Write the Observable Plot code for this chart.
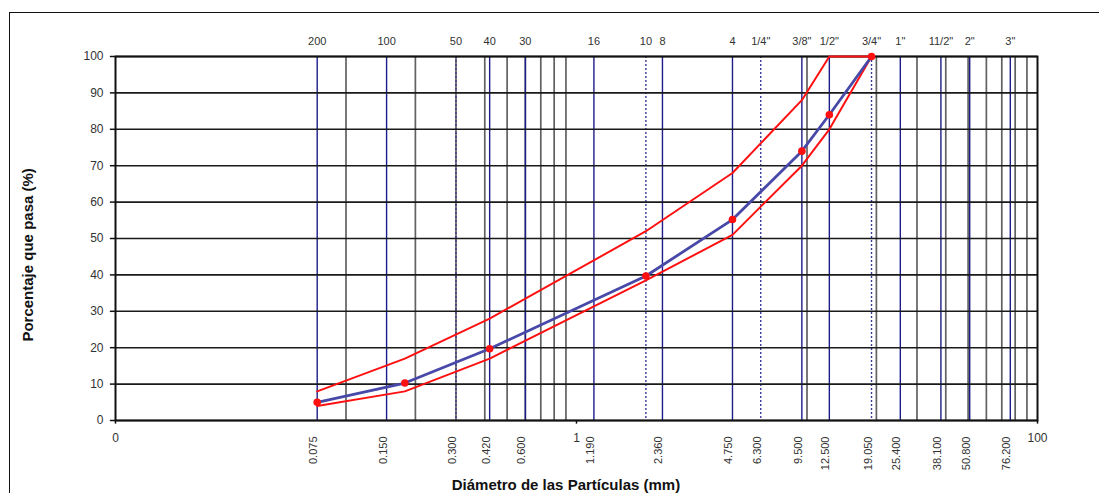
<!DOCTYPE html>
<html>
<head>
<meta charset="utf-8">
<script src="https://cdn.jsdelivr.net/npm/d3@7"></script>
<script src="https://cdn.jsdelivr.net/npm/@observablehq/plot@0.6"></script>
<style>
  html, body { margin: 0; padding: 0; background: #fff; overflow: hidden; }
  #wrap { position: relative; width: 1099px; height: 493px; }
  #border { position: absolute; left: 9px; top: 12px; width: 1200px; height: 600px;
            border-left: 1.5px solid #111; border-top: 1.5px solid #111; pointer-events: none; }
</style>
</head>
<body>
<div id="wrap"><div id="border"></div></div>
<script>
// Sieve openings (mm) and names
const sieveSizes = [0.075, 0.15, 0.3, 0.42, 0.6, 1.19, 2.0, 2.36, 4.75, 6.3, 9.5, 12.5, 19.05, 25.4, 38.1, 50.8, 76.2];
const sieveNames = ["200", "100", "50", "40", "30", "16", "10", "8", "4", "1/4\"", "3/8\"", "1/2\"", "3/4\"", "1\"", "11/2\"", "2\"", "3\""];
const dottedSizes = [0.3, 2.0, 6.3, 19.05];
const bottomLabelSizes = [0.075, 0.15, 0.3, 0.42, 0.6, 1.19, 2.36, 4.75, 6.3, 9.5, 12.5, 19.05, 25.4, 38.1, 50.8, 76.2];
const minorGrid = [0.1, 0.2, 0.3, 0.4, 0.5, 0.6, 0.7, 0.8, 0.9, 10, 20, 30, 40, 50, 60, 70, 80, 90];
const xMainLabels = [0.01, 1, 100];
const xMainText = ["0", "1", "100"];
const yTicks = [0, 10, 20, 30, 40, 50, 60, 70, 80, 90, 100];

// Curves
const curveX = [0.075, 0.18, 0.42, 2.0, 4.75, 9.5, 12.5, 19.05];
const sampleY = [5, 10.3, 19.7, 39.7, 55.2, 74, 84, 100];
const upperY = [8, 17, 28, 52, 68, 88, 100, 100];
const lowerY = [4, 8, 17, 38.5, 51, 70, 80, 100];

const sample = curveX.map((x, i) => ({x, y: sampleY[i]}));
const upper = curveX.map((x, i) => ({x, y: upperY[i]}));
const lower = curveX.map((x, i) => ({x, y: lowerY[i]}));
const sieves = sieveSizes.map((s, i) => ({s, name: sieveNames[i], dotted: dottedSizes.includes(s)}));
const solidSieves = sieves.filter(d => !d.dotted);
const dotSieves = sieves.filter(d => d.dotted);
const mainLabels = xMainLabels.map((v, i) => ({v, t: xMainText[i]}));

const font = "Liberation Sans, Arial, Helvetica, sans-serif";

const chart = Plot.plot({
  width: 1099,
  height: 493,
  marginLeft: 115,
  marginRight: 62,
  marginTop: 56,
  marginBottom: 73,
  style: {fontFamily: font, background: "transparent", overflow: "visible"},
  x: {type: "log", domain: [0.01, 100], axis: null},
  y: {domain: [0, 100], axis: null},
  marks: [
    Plot.ruleX(minorGrid, {stroke: "#3a3a3a", strokeWidth: 1.7, strokeOpacity: 0.8}),
    Plot.ruleX(solidSieves, {x: "s", stroke: "#1c1c8a", strokeWidth: 1.4}),
    Plot.ruleX(dotSieves, {x: "s", stroke: "#3a3a9a", strokeWidth: 1.4, strokeDasharray: "2,2"}),
    Plot.ruleY(yTicks, {stroke: "#1a1a1a", strokeWidth: 1.6}),
    // y ticks
    Plot.ruleY(yTicks, {x1: 0.0095, x2: 0.01, stroke: "#111", strokeWidth: 1.5, clip: false}),
    // x ticks
    Plot.ruleX(xMainLabels, {y1: 0, y2: -1, stroke: "#111", strokeWidth: 1.5}),
    Plot.frame({stroke: "#111", strokeWidth: 2}),
    // curves
    Plot.line(lower, {x: "x", y: "y", stroke: "#ff1010", strokeWidth: 2}),
    Plot.line(upper, {x: "x", y: "y", stroke: "#ff1010", strokeWidth: 2}),
    Plot.line(sample, {x: "x", y: "y", stroke: "#4848a8", strokeWidth: 2.8}),
    Plot.dot(sample, {x: "x", y: "y", r: 3.8, fill: "#ff1010", stroke: "none"}),
    // y tick labels
    Plot.text(yTicks, {frameAnchor: "left", y: d => d, text: d => String(d), dx: -12, textAnchor: "end", fontSize: 12, fill: "#333"}),
    // top sieve names
    Plot.text(sieves, {x: "s", text: "name", frameAnchor: "top", dy: -19, fontSize: 11, fill: "#333"}),
    // bottom rotated labels
    Plot.text(bottomLabelSizes, {x: d => d, text: d => d.toFixed(3), frameAnchor: "bottom", dy: 16, rotate: -90, textAnchor: "end", fontSize: 11, fill: "#333"}),
    // main x labels
    Plot.text(mainLabels, {x: "v", text: "t", frameAnchor: "bottom", dy: 21, fontSize: 12, fill: "#333"}),
    // axis titles
    Plot.text(["Diámetro de las Partículas (mm)"], {x: 0.9, frameAnchor: "bottom", dy: 69, textAnchor: "middle", text: d => d, fontSize: 15, fontWeight: "bold", fill: "#111"}),
    Plot.text(["Porcentaje que pasa (%)"], {frameAnchor: "left", y: 45.5, dx: -87, rotate: -90, textAnchor: "middle", text: d => d, fontSize: 15, fontWeight: "bold", fill: "#111"})
  ]
});
document.getElementById("wrap").appendChild(chart);
chart.style.position = "absolute";
chart.style.left = "0px";
chart.style.top = "0px";
</script>
</body>
</html>
